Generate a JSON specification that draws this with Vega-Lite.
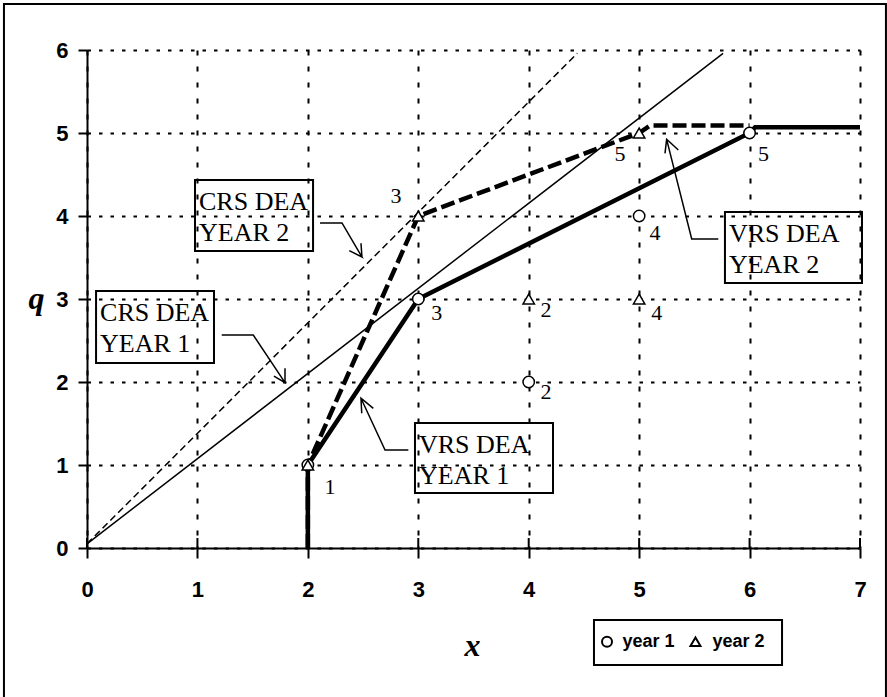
{
  "$schema": "https://vega.github.io/schema/vega-lite/v6.json",
  "width": 773,
  "height": 498,
  "autosize": {"type": "none"},
  "padding": {"left": 87, "top": 50, "right": 27, "bottom": 149},
  "background": "white",
  "config": {
    "view": {"stroke": null},
    "axis": {"labelFlush": false, "labelOverlap": false}
  },
  "datasets": {
    "lines": [
      {"s": "CRS1", "o": 1, "px": 0, "py": 0.05},
      {"s": "CRS1", "o": 2, "px": 5.76, "py": 5.96},
      {"s": "CRS2", "o": 1, "px": 0, "py": 0.05},
      {"s": "CRS2", "o": 2, "px": 4.44, "py": 5.96},
      {"s": "VRS1", "o": 1, "px": 2, "py": 0},
      {"s": "VRS1", "o": 2, "px": 2, "py": 1},
      {"s": "VRS1", "o": 3, "px": 3, "py": 3},
      {"s": "VRS1", "o": 4, "px": 6, "py": 5},
      {"s": "VRS1", "o": 5, "px": 6.05, "py": 5.07},
      {"s": "VRS1", "o": 6, "px": 7, "py": 5.07},
      {"s": "VRS2", "o": 1, "px": 2, "py": 0},
      {"s": "VRS2", "o": 2, "px": 2, "py": 1},
      {"s": "VRS2", "o": 3, "px": 3, "py": 4},
      {"s": "VRS2", "o": 4, "px": 5, "py": 5},
      {"s": "VRS2", "o": 5, "px": 5.1, "py": 5.09},
      {"s": "VRS2", "o": 6, "px": 6, "py": 5.09}
    ],
    "points": [
      {"series": "year 1", "id": 1, "px": 2, "py": 1, "lab": "1", "lx": 2.2, "ly": 0.739},
      {"series": "year 1", "id": 2, "px": 4, "py": 2, "lab": "2", "lx": 4.157, "ly": 1.876},
      {"series": "year 1", "id": 3, "px": 3, "py": 3, "lab": "3", "lx": 3.167, "ly": 2.828},
      {"series": "year 1", "id": 4, "px": 5, "py": 4, "lab": "4", "lx": 5.144, "ly": 3.791},
      {"series": "year 1", "id": 5, "px": 6, "py": 5, "lab": "5", "lx": 6.125, "ly": 4.747},
      {"series": "year 2", "id": 1, "px": 2, "py": 1, "lab": "", "lx": 2.2, "ly": 0.739},
      {"series": "year 2", "id": 2, "px": 4, "py": 3, "lab": "2", "lx": 4.157, "ly": 2.867},
      {"series": "year 2", "id": 3, "px": 3, "py": 4, "lab": "3", "lx": 2.798, "ly": 4.245},
      {"series": "year 2", "id": 4, "px": 5, "py": 3, "lab": "4", "lx": 5.159, "ly": 2.828},
      {"series": "year 2", "id": 5, "px": 5, "py": 5, "lab": "5", "lx": 4.827, "ly": 4.747}
    ],
    "boxes": [
      {"b": "A", "bl": 0.978, "br": 2.047, "bt": 4.434, "bb": 3.578, "label": "CRS DEA\nYEAR 2"},
      {"b": "B", "bl": 0.082, "br": 1.15, "bt": 3.096, "bb": 2.229, "label": "CRS DEA\nYEAR 1"},
      {"b": "C", "bl": 2.97, "br": 4.22, "bt": 1.506, "bb": 0.663, "label": "VRS DEA\nYEAR 1"},
      {"b": "D", "bl": 5.777, "br": 7.018, "bt": 4.048, "bb": 3.193, "label": "VRS DEA\nYEAR 2"}
    ],
    "arrows": [
      {"a": "A", "o": 1, "px": 2.11, "py": 3.916},
      {"a": "A", "o": 2, "px": 2.309, "py": 3.916},
      {"a": "A", "o": 3, "px": 2.49, "py": 3.506},
      {"a": "A", "o": 4, "px": 2.375, "py": 3.582},
      {"a": "A", "o": 5, "px": 2.49, "py": 3.506},
      {"a": "A", "o": 6, "px": 2.481, "py": 3.671},
      {"a": "B", "o": 1, "px": 1.22, "py": 2.566},
      {"a": "B", "o": 2, "px": 1.506, "py": 2.566},
      {"a": "B", "o": 3, "px": 1.793, "py": 1.992},
      {"a": "B", "o": 4, "px": 1.693, "py": 2.072},
      {"a": "B", "o": 5, "px": 1.793, "py": 1.992},
      {"a": "B", "o": 6, "px": 1.793, "py": 2.165},
      {"a": "C", "o": 1, "px": 2.91, "py": 1.181},
      {"a": "C", "o": 2, "px": 2.699, "py": 1.181},
      {"a": "C", "o": 3, "px": 2.481, "py": 1.804},
      {"a": "C", "o": 4, "px": 2.488, "py": 1.623},
      {"a": "C", "o": 5, "px": 2.481, "py": 1.804},
      {"a": "C", "o": 6, "px": 2.593, "py": 1.683},
      {"a": "D", "o": 1, "px": 5.717, "py": 3.723},
      {"a": "D", "o": 2, "px": 5.476, "py": 3.723},
      {"a": "D", "o": 3, "px": 5.249, "py": 4.924},
      {"a": "D", "o": 4, "px": 5.234, "py": 4.755},
      {"a": "D", "o": 5, "px": 5.249, "py": 4.924},
      {"a": "D", "o": 6, "px": 5.355, "py": 4.795}
    ],
    "frame": [
      {"fl": -0.752, "fr": 7.235, "ft": 6.554, "fb": -2.3}
    ],
    "legendbox": [
      {"bl": 4.591, "br": 6.294, "bt": -0.867, "bb": -1.41}
    ],
    "legenditems": [
      {"series": "year 1", "kx": 4.709, "ky": -1.13, "tx": 4.85},
      {"series": "year 2", "kx": 5.51, "ky": -1.13, "tx": 5.665}
    ],
    "xticks": [
      {"t": 0, "t0": 0, "t1": 0.12}, {"t": 1, "t0": 0, "t1": 0.12}, {"t": 2, "t0": 0, "t1": 0.12}, {"t": 3, "t0": 0, "t1": 0.12},
      {"t": 4, "t0": 0, "t1": 0.12}, {"t": 5, "t0": 0, "t1": 0.12}, {"t": 6, "t0": 0, "t1": 0.12}, {"t": 7, "t0": 0, "t1": 0.12}
    ]
  },
  "layer": [
    {
      "data": {"name": "frame"},
      "mark": {"type": "rect", "fillOpacity": 0, "stroke": "black", "strokeWidth": 2},
      "encoding": {
        "x": {
          "field": "fl", "type": "quantitative",
          "scale": {"domain": [0, 7], "nice": false, "zero": false},
          "axis": {
            "values": [0, 1, 2, 3, 4, 5, 6, 7], "format": "d",
            "grid": true, "gridColor": "black", "gridWidth": 2, "gridDash": [5, 11], "gridOpacity": 1,
            "domainColor": "black", "domainWidth": 2,
            "tickColor": "black", "tickWidth": 2, "tickSize": 10,
            "labelFont": "Liberation Sans", "labelFontWeight": "bold", "labelFontSize": 22, "labelColor": "black",
            "labelPadding": 21, "labelFlush": false,
            "title": "x", "titleFont": "Liberation Serif", "titleFontStyle": "italic", "titleFontWeight": "bold",
            "titleFontSize": 32, "titleColor": "black", "titleX": 385, "titleY": 107,
            "titleAlign": "center", "titleBaseline": "alphabetic"
          }
        },
        "x2": {"field": "fr"},
        "y": {
          "field": "ft", "type": "quantitative",
          "scale": {"domain": [0, 6], "nice": false, "zero": false},
          "axis": {
            "values": [0, 1, 2, 3, 4, 5, 6], "format": "d",
            "grid": true, "gridColor": "black", "gridWidth": 2, "gridDash": [3.5, 8], "gridOpacity": 1,
            "domainColor": "black", "domainWidth": 2,
            "tickColor": "black", "tickWidth": 2, "tickSize": 9,
            "labelFont": "Liberation Sans", "labelFontWeight": "bold", "labelFontSize": 22, "labelColor": "black",
            "labelPadding": 10, "labelFlush": false,
            "title": "q", "titleFont": "Liberation Serif", "titleFontStyle": "italic", "titleFontWeight": "bold",
            "titleFontSize": 32, "titleColor": "black", "titleAngle": 0, "titleX": -51, "titleY": 258,
            "titleAlign": "center", "titleBaseline": "alphabetic"
          }
        },
        "y2": {"field": "fb"}
      }
    },
    {
      "data": {"name": "boxes"},
      "mark": {"type": "rect", "fillOpacity": 0, "stroke": "black", "strokeWidth": 2},
      "encoding": {
        "x": {"field": "bl", "type": "quantitative"},
        "x2": {"field": "br"},
        "y": {"field": "bt", "type": "quantitative"},
        "y2": {"field": "bb"}
      }
    },
    {
      "data": {"name": "boxes"},
      "mark": {"type": "text", "align": "left", "baseline": "alphabetic", "dx": 4, "dy": 30, "lineBreak": "\n", "lineHeight": 31, "font": "Liberation Serif", "fontSize": 26, "color": "black"},
      "encoding": {
        "x": {"field": "bl", "type": "quantitative"},
        "y": {"field": "bt", "type": "quantitative"},
        "text": {"field": "label"}
      }
    },
    {
      "data": {"name": "arrows"},
      "mark": {"type": "line", "color": "black", "strokeWidth": 1.5},
      "encoding": {
        "x": {"field": "px", "type": "quantitative"},
        "y": {"field": "py", "type": "quantitative"},
        "detail": {"field": "a"},
        "order": {"field": "o"}
      }
    },
    {
      "data": {"name": "lines"},
      "transform": [{"filter": "datum.s === 'CRS1'"}],
      "mark": {"type": "line", "color": "black", "strokeWidth": 1.5},
      "encoding": {
        "x": {"field": "px", "type": "quantitative"},
        "y": {"field": "py", "type": "quantitative"},
        "order": {"field": "o"}
      }
    },
    {
      "data": {"name": "lines"},
      "transform": [{"filter": "datum.s === 'CRS2'"}],
      "mark": {"type": "line", "color": "black", "strokeWidth": 1.5, "strokeDash": [7, 4]},
      "encoding": {
        "x": {"field": "px", "type": "quantitative"},
        "y": {"field": "py", "type": "quantitative"},
        "order": {"field": "o"}
      }
    },
    {
      "data": {"name": "lines"},
      "transform": [{"filter": "datum.s === 'VRS1'"}],
      "mark": {"type": "line", "color": "black", "strokeWidth": 4.5},
      "encoding": {
        "x": {"field": "px", "type": "quantitative"},
        "y": {"field": "py", "type": "quantitative"},
        "order": {"field": "o"}
      }
    },
    {
      "data": {"name": "lines"},
      "transform": [{"filter": "datum.s === 'VRS2'"}],
      "mark": {"type": "line", "color": "black", "strokeWidth": 4.5, "strokeDash": [14, 5]},
      "encoding": {
        "x": {"field": "px", "type": "quantitative"},
        "y": {"field": "py", "type": "quantitative"},
        "order": {"field": "o"}
      }
    },
    {
      "data": {"name": "xticks"},
      "mark": {"type": "rule", "color": "black", "strokeWidth": 2},
      "encoding": {
        "x": {"field": "t", "type": "quantitative"},
        "y": {"field": "t0", "type": "quantitative"},
        "y2": {"field": "t1"}
      }
    },
    {
      "data": {"name": "points"},
      "mark": {"type": "point", "fill": "white", "fillOpacity": 1, "stroke": "black", "strokeWidth": 1.5, "size": 130},
      "encoding": {
        "x": {"field": "px", "type": "quantitative"},
        "y": {"field": "py", "type": "quantitative"},
        "shape": {
          "field": "series", "type": "nominal",
          "scale": {"domain": ["year 1", "year 2"], "range": ["circle", "triangle-up"]},
          "legend": null
        }
      }
    },
    {
      "data": {"name": "points"},
      "mark": {"type": "text", "align": "center", "baseline": "middle", "font": "Liberation Serif", "fontSize": 22, "color": "black"},
      "encoding": {
        "x": {"field": "lx", "type": "quantitative"},
        "y": {"field": "ly", "type": "quantitative"},
        "text": {"field": "lab"}
      }
    },
    {
      "data": {"name": "legendbox"},
      "mark": {"type": "rect", "fill": "white", "stroke": "black", "strokeWidth": 2},
      "encoding": {
        "x": {"field": "bl", "type": "quantitative"},
        "x2": {"field": "br"},
        "y": {"field": "bt", "type": "quantitative"},
        "y2": {"field": "bb"}
      }
    },
    {
      "data": {"name": "legenditems"},
      "mark": {"type": "point", "fill": "white", "fillOpacity": 1, "stroke": "black", "strokeWidth": 2, "size": 100},
      "encoding": {
        "x": {"field": "kx", "type": "quantitative"},
        "y": {"field": "ky", "type": "quantitative"},
        "shape": {"field": "series", "type": "nominal", "legend": null}
      }
    },
    {
      "data": {"name": "legenditems"},
      "mark": {"type": "text", "align": "left", "baseline": "middle", "font": "Liberation Sans", "fontWeight": "bold", "fontSize": 18, "color": "black"},
      "encoding": {
        "x": {"field": "tx", "type": "quantitative"},
        "y": {"field": "ky", "type": "quantitative"},
        "text": {"field": "series"}
      }
    }
  ]
}
